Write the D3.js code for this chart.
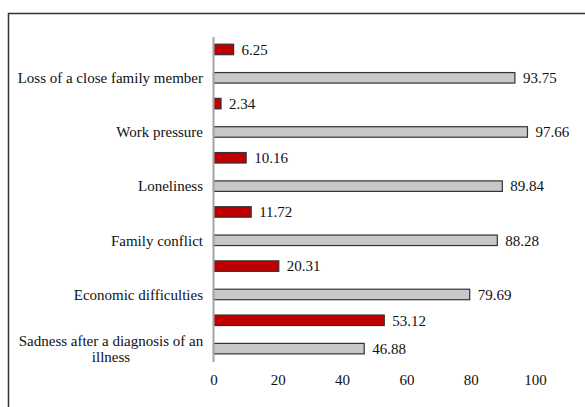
<!DOCTYPE html>
<html>
<head>
<meta charset="utf-8">
<script src="https://cdn.jsdelivr.net/npm/d3@7"></script>
<style>
  * { margin: 0; padding: 0; }
  body { background: #fff; width: 585px; height: 407px; overflow: hidden; }
</style>
</head>
<body>
<script>
  // chart data
  const categories = [
    "Loss of a close family member",
    "Work pressure",
    "Loneliness",
    "Family conflict",
    "Economic difficulties",
    "Sadness after a diagnosis of an illness"
  ];
  const seriesNames = ["red", "gray"];
  const redValues = [6.25, 2.34, 10.16, 11.72, 20.31, 53.12];
  const grayValues = [93.75, 97.66, 89.84, 88.28, 79.69, 46.88];
  const xTicks = [0, 20, 40, 60, 80, 100];

  const w = 585, h = 407;
  const plotLeft = 213.5, plotRight = 535, plotTop = 37, plotBottom = 362;
  const fills = { red: "#C00000", gray: "#C8C8C8" };
  const font = "Liberation Serif";
  const fontSize = "15px";

  const svg = d3.select("body").append("svg")
    .attr("width", w).attr("height", h);

  // frame (runs off the right and bottom edges like the original)
  svg.append("rect")
    .attr("x", 8.5).attr("y", 13.5)
    .attr("width", 620).attr("height", 420)
    .attr("fill", "none")
    .attr("stroke", "#333").attr("stroke-width", 1.5);

  const x = d3.scaleLinear().domain([0, 100]).range([plotLeft, plotRight]);
  const y = d3.scaleBand().domain(categories).range([plotTop, plotBottom]);
  const ySub = d3.scaleBand().domain(seriesNames)
    .range([0, y.bandwidth()])
    .paddingInner(0.63).paddingOuter(0.27).align(0.47);

  const rows = categories.map((c, i) => ({ cat: c, red: redValues[i], gray: grayValues[i] }));

  const groups = svg.selectAll("g.cat").data(rows).enter()
    .append("g").attr("class", "cat")
    .attr("transform", d => "translate(0," + y(d.cat) + ")");

  seriesNames.forEach(s => {
    groups.append("rect")
      .attr("x", x(0))
      .attr("y", ySub(s))
      .attr("width", d => x(d[s]) - x(0))
      .attr("height", ySub.bandwidth())
      .attr("fill", fills[s])
      .attr("stroke", "#333")
      .attr("stroke-width", 1.2);

    groups.append("text")
      .attr("font-family", font)
      .attr("font-size", fontSize)
      .attr("x", d => x(d[s]) + 8)
      .attr("y", ySub(s) + ySub.bandwidth() / 2)
      .attr("dy", "0.35em")
      .attr("fill", "#111")
      .text(d => d[s].toFixed(2));
  });

  // category labels, aligned with the gray bar
  const wrapWidth = 190;
  groups.each(function (d) {
    const g = d3.select(this);
    const cy = ySub("gray") + ySub.bandwidth() / 2;
    const t = g.append("text")
      .attr("font-family", font)
      .attr("font-size", fontSize)
      .attr("fill", "#111");
    t.text(d.cat);
    if (t.node().getComputedTextLength() <= wrapWidth) {
      t.attr("x", 203).attr("y", cy).attr("dy", "0.35em")
        .attr("text-anchor", "end");
    } else {
      // wrap into centered lines
      const words = d.cat.split(" ");
      const lines = [];
      let line = [];
      t.text(null);
      const tmp = t.append("tspan");
      words.forEach(wd => {
        line.push(wd);
        tmp.text(line.join(" "));
        if (tmp.node().getComputedTextLength() > wrapWidth && line.length > 1) {
          line.pop();
          lines.push(line.join(" "));
          line = [wd];
        }
      });
      lines.push(line.join(" "));
      tmp.remove();
      const cx = 111;
      const lh = 16;
      lines.forEach((ln, i) => {
        t.append("tspan")
          .attr("x", cx)
          .attr("y", cy + (i - (lines.length - 1) / 2) * lh)
          .attr("dy", "0.35em")
          .attr("text-anchor", "middle")
          .text(ln);
      });
    }
  });

  // vertical axis line
  svg.append("line")
    .attr("x1", x(0)).attr("x2", x(0))
    .attr("y1", plotTop).attr("y2", plotBottom)
    .attr("stroke", "#A6A6A6").attr("stroke-width", 2);

  // x tick labels
  const xAxis = d3.axisBottom(x).tickValues(xTicks).tickSize(0).tickPadding(0);
  const ax = svg.append("g")
    .attr("transform", "translate(0," + (plotBottom + 12) + ")")
    .call(xAxis);
  ax.select(".domain").remove();
  ax.selectAll("text")
    .attr("font-family", font)
    .attr("font-size", fontSize)
    .attr("fill", "#111");
</script>
</body>
</html>
